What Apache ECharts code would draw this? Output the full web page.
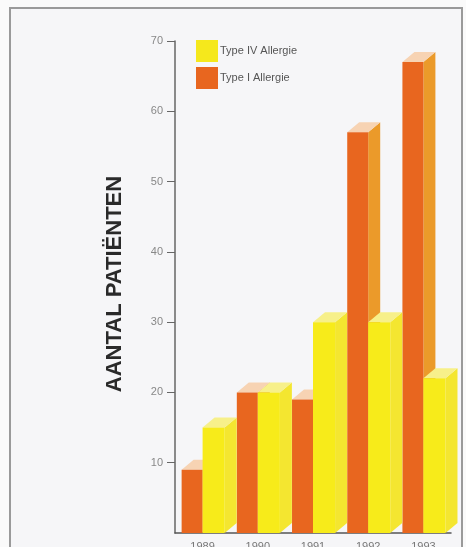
<!DOCTYPE html>
<html>
<head>
<meta charset="utf-8">
<script src="https://cdn.jsdelivr.net/npm/echarts@6/dist/echarts.min.js"></script>
<style>
html,body{margin:0;padding:0;background:#fafafa;}
#c{width:466px;height:547px;}
</style>
</head>
<body>
<div id="c"></div>
<script>
var years = ['1989', '1990', '1991', '1992', '1993'];
var typeIV = [15, 20, 30, 30, 22];
var typeI = [9, 20, 19, 57, 67];
var yTicks = [10, 20, 30, 40, 50, 60, 70];

var chart = echarts.init(document.getElementById('c'), null, {renderer: 'canvas'});

function makeRender(side, frontCol, sideCol, topCol) {
  return function (params, api) {
    var idx = api.value(0), val = api.value(1);
    var top = api.coord([idx, val]);
    var base = api.coord([idx, 0]);
    var bw = api.size([1, 0])[0];
    var cx = top[0];
    var x0, x1;
    if (side === 'left') { x0 = cx - 0.38 * bw; x1 = cx; }
    else { x0 = cx; x1 = cx + 0.40 * bw; }
    var yt = top[1], yb = base[1];
    var dx = 12, dy = 10;
    return {
      type: 'group',
      children: [
        {type: 'polygon', shape: {points: [[x1, yt], [x1 + dx, yt - dy], [x1 + dx, yb - dy], [x1, yb]]},
          style: {fill: sideCol}},
        {type: 'polygon', shape: {points: [[x0, yt], [x0 + dx, yt - dy], [x1 + dx, yt - dy], [x1, yt]]},
          style: {fill: topCol}},
        {type: 'rect', shape: {x: x0, y: yt, width: x1 - x0, height: yb - yt},
          style: {fill: frontCol}}
      ]
    };
  };
}

var option = {
  backgroundColor: '#fafafa',
  animation: false,
  textStyle: {fontFamily: 'Liberation Sans, Arial, sans-serif'},
  graphic: [
    {type: 'rect', z: -10, shape: {x: 10, y: 8, width: 452, height: 560},
      style: {fill: '#f6f6f8', stroke: '#9a9a9a', lineWidth: 2}}
  ],
  legend: {
    data: ['Type IV Allergie', 'Type I Allergie'],
    orient: 'vertical',
    left: 196, top: 40,
    itemWidth: 22, itemHeight: 22, itemGap: 5,
    padding: 0,
    icon: 'rect',
    textStyle: {fontSize: 11, color: '#555', padding: [0, 0, 0, -3]}
  },
  grid: {left: 175, right: 15, top: 41, bottom: 14, containLabel: false, outerBoundsMode: 'none'},
  xAxis: {
    type: 'category',
    data: years,
    boundaryGap: true,
    axisLine: {lineStyle: {color: '#555', width: 1.5}},
    axisTick: {show: false},
    axisLabel: {color: '#777', fontSize: 11, margin: 8}
  },
  yAxis: {
    type: 'value',
    min: 0, max: 70, interval: 10,
    name: 'AANTAL PATIËNTEN',
    nameLocation: 'middle',
    nameRotate: 90,
    nameGap: 49,
    nameTextStyle: {fontSize: 22, fontWeight: 'bold', color: '#2a2a2a', padding: [0, 0, 0, 6]},
    axisLine: {show: true, lineStyle: {color: '#666', width: 1.5}},
    axisTick: {show: true, length: 8, lineStyle: {color: '#666'}},
    splitLine: {show: false},
    axisLabel: {
      color: '#888', fontSize: 11, margin: 12,
      showMinLabel: false,
      formatter: function (v) { return yTicks.indexOf(v) >= 0 ? String(v) : ''; }
    }
  },
  series: [
    {
      name: 'Type I Allergie', type: 'custom',
      itemStyle: {color: '#e8661f'},
      renderItem: makeRender('left', '#e8661f', '#eb9a2a', '#f7d3b3'),
      encode: {x: 0, y: 1},
      data: typeI.map(function (v, i) { return [i, v]; }),
      z: 2
    },
    {
      name: 'Type IV Allergie', type: 'custom',
      itemStyle: {color: '#f5e81c'},
      renderItem: makeRender('right', '#f7eb1a', '#f4e630', '#f7f08a'),
      encode: {x: 0, y: 1},
      data: typeIV.map(function (v, i) { return [i, v]; }),
      z: 3
    }
  ]
};
chart.setOption(option);
</script>
</body>
</html>
